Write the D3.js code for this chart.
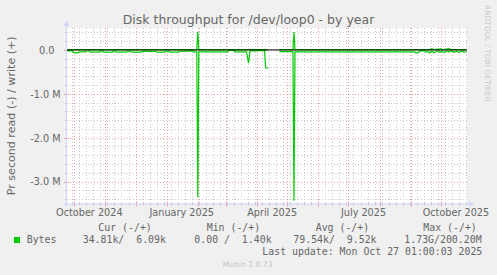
<!DOCTYPE html>
<html><head><meta charset="utf-8">
<script src="https://cdn.jsdelivr.net/npm/d3@7"></script>
<style>
html,body{margin:0;padding:0;background:#f0f0f0;}
svg text{white-space:pre;}
</style></head><body>
<svg id="c" width="497" height="275"></svg>
<script>
// ---- data (bytes per second; read plotted negative, write positive) ----
const readSeries = [
  ["2024-09-24",-20000],["2024-09-29",-20000],["2024-10-01",-65000],["2024-10-05",-65000],
  ["2024-10-06",-42000],["2024-10-12",-42000],["2024-10-13",-24000],["2024-10-16",-24000],
  ["2024-10-17",-48000],["2024-10-26",-48000],["2024-10-27",-26000],["2024-10-29",-26000],
  ["2024-10-30",-48000],["2024-11-08",-48000],["2024-11-09",-28000],["2024-11-11",-28000],
  ["2024-11-12",-48000],["2024-11-22",-48000],["2024-11-23",-28000],["2024-11-26",-28000],
  ["2024-11-27",-48000],["2024-12-07",-48000],["2024-12-08",-32000],["2024-12-21",-32000],
  ["2024-12-22",-48000],["2024-12-30",-48000],["2024-12-31",-28000],["2025-01-03",-28000],
  ["2025-01-04",-48000],["2025-01-13",-48000],["2025-01-14",-25000],["2025-01-27",-25000],
  ["2025-01-28",-45000],["2025-01-31",-45000],["2025-02-01",-3360000],["2025-02-02",-46000],
  ["2025-03-03",-46000],["2025-03-04",-12000],["2025-03-09",-12000],["2025-03-10",-46000],
  ["2025-03-21T12:00",-46000],["2025-03-23T12:00",-300000],["2025-03-25",-22000],["2025-03-31",-22000],
  ["2025-04-01",-15000],["2025-04-08T12:00",-15000],["2025-04-09T12:00",-412000],["2025-04-12",-412000],
  ["2025-04-13",null],["2025-04-23T06:00",-38000],["2025-05-06T18:00",-38000],["2025-05-07T18:00",-3440000],
  ["2025-05-08T18:00",-46000],["2025-09-05",-46000],["2025-09-06",-68000],["2025-09-08",-68000],
  ["2025-09-09",-46000],["2025-09-11",-22000],["2025-09-15",-22000],["2025-09-16",-46000],
  ["2025-09-19",-46000],["2025-09-20",-70000],["2025-09-22",-25000],["2025-09-24",-65000],
  ["2025-09-26",-40000],["2025-09-28",-20000],["2025-09-30",-55000],["2025-10-02",-30000],
  ["2025-10-04",-60000],["2025-10-07",-25000],["2025-10-09",-50000],["2025-10-11",-20000],
  ["2025-10-14",-55000],["2025-10-17",-30000],["2025-10-19",-60000],["2025-10-22",-25000],
  ["2025-10-24",-50000],["2025-10-26T12:00",-35000]
];
const writeSeries = [
  ["2024-09-24",7000],["2025-01-31",7000],["2025-02-01",410000],["2025-02-02",7000],
  ["2025-04-12",7000],["2025-04-13",null],["2025-04-23T06:00",7000],["2025-05-06T18:00",7000],
  ["2025-05-07T18:00",410000],["2025-05-08T18:00",7000],["2025-09-20",7000],["2025-09-22",28000],
  ["2025-09-24",7000],["2025-10-01",25000],["2025-10-03",7000],["2025-10-09",28000],
  ["2025-10-11",7000],["2025-10-26T12:00",6000]
];
const timeDomain = ["2024-09-23T18:00","2025-10-27T01:00"];
const valueDomain = [-3500000, 500000];
const yTickValues = [0, -1000000, -2000000, -3000000];
const xLabelMonths = ["2024-10-01","2025-01-01","2025-04-01","2025-07-01","2025-10-01"];
const xLabelTexts = ["October 2024","January 2025","April 2025","July 2025","October 2025"];
const legendHeaders = ["Cur (-/+)","Min (-/+)","Avg (-/+)","Max (-/+)"];
const legendValues = ["34.81k/  6.09k","0.00 /  1.40k","79.54k/  9.52k","1.73G/200.20M"];
const seriesName = "Bytes";
const titleText = "Disk throughput for /dev/loop0 - by year";
const yAxisTitle = "Pr second read (-) / write (+)";
const lastUpdate = "Last update: Mon Oct 27 01:00:03 2025";
const footer = "Munin 2.0.73";
const watermark = "RRDTOOL / TOBI OETIKER";

// ---- layout ----
const L = 67, R = 467, T = 28, B = 203.5;
const parse = s => new Date(s + (s.length === 10 ? "T00:00:00Z" : ":00Z"));
const svg = d3.select("#c");
const sans = "'DejaVu Sans', Verdana, sans-serif";
const mono = "'DejaVu Sans Mono', monospace";
const fontCol = "#666666";
const axisCol = "#CFD6F8";
const gridCol = "#c8c8c8";
const mgridCol = "#eaa2a2";
const green = "#00CC00";

const x = d3.scaleUtc().domain(timeDomain.map(parse)).range([L, R]);
const y = d3.scaleLinear().domain(valueDomain).range([B, T]);

svg.append("rect").attr("width",497).attr("height",275).attr("fill","#f0f0f0");
svg.append("rect").attr("x",L).attr("y",T).attr("width",R-L).attr("height",B-T).attr("fill","#ffffff");

const g = svg.append("g");
const px = v => Math.round(v) + 0.5;

// minor horizontal grid
const minorY = y.ticks(20).filter(v => Math.abs(v % 1000000) > 1);
g.selectAll(".hmin").data(minorY).join("line")
  .attr("x1",L).attr("x2",R).attr("y1",d=>px(y(d))).attr("y2",d=>px(y(d)))
  .attr("stroke",gridCol).attr("stroke-dasharray","1,2");
// minor vertical grid (weekly)
const weeks = d3.utcSunday.range(x.domain()[0], x.domain()[1]);
g.selectAll(".vmin").data(weeks).join("line")
  .attr("y1",T).attr("y2",B).attr("x1",d=>px(x(d))).attr("x2",d=>px(x(d)))
  .attr("stroke",gridCol).attr("stroke-dasharray","1,2");
// major grids
const majorY = y.ticks(4);
g.selectAll(".hmaj").data(majorY).join("line")
  .attr("x1",L).attr("x2",R).attr("y1",d=>px(y(d))).attr("y2",d=>px(y(d)))
  .attr("stroke",mgridCol).attr("stroke-dasharray","1,2");
const months = d3.utcMonth.range(x.domain()[0], x.domain()[1]);
g.selectAll(".vmaj").data(months).join("line")
  .attr("y1",T).attr("y2",B).attr("x1",d=>px(x(d))).attr("x2",d=>px(x(d)))
  .attr("stroke",mgridCol).attr("stroke-dasharray","1,2");

// ticks on axes
g.selectAll(".tyl").data(minorY).join("line")
  .attr("x1",L-2).attr("x2",L+1).attr("y1",d=>px(y(d))).attr("y2",d=>px(y(d))).attr("stroke",gridCol);
g.selectAll(".tyM").data(majorY).join("line")
  .attr("x1",L-3).attr("x2",L+2).attr("y1",d=>px(y(d))).attr("y2",d=>px(y(d))).attr("stroke",mgridCol);
g.selectAll(".txl").data(weeks).join("line")
  .attr("y1",B-1).attr("y2",B+2).attr("x1",d=>px(x(d))).attr("x2",d=>px(x(d))).attr("stroke",gridCol);
g.selectAll(".txM").data(months).join("line")
  .attr("y1",B-2).attr("y2",B+3).attr("x1",d=>px(x(d))).attr("x2",d=>px(x(d))).attr("stroke",mgridCol);

// data lines
const line = d3.line().defined(d => d[1] !== null).x(d => x(parse(d[0]))).y(d => y(d[1]));
svg.append("path").attr("d", line(writeSeries)).attr("fill","none").attr("stroke",green).attr("stroke-width",1.2);
svg.append("path").attr("d", line(readSeries)).attr("fill","none").attr("stroke",green).attr("stroke-width",1.2);
// zero rule
svg.append("line").attr("x1",L).attr("x2",R).attr("y1",y(0)).attr("y2",y(0)).attr("stroke","#000").attr("stroke-width",1);

// axes lines + arrows
svg.append("line").attr("x1",L-0.5).attr("x2",L-0.5).attr("y1",B+3).attr("y2",T-3).attr("stroke",axisCol);
svg.append("line").attr("x1",L-3).attr("x2",R+3).attr("y1",B+0.5).attr("y2",B+0.5).attr("stroke",axisCol);
svg.append("path").attr("d",`M${L-3.5},${T-2}L${L+2.5},${T-2}L${L-0.5},${T-7}Z`).attr("fill",axisCol);
svg.append("path").attr("d",`M${R+2},${B-2.5}L${R+2},${B+3.5}L${R+7},${B+0.5}Z`).attr("fill",axisCol);

// y tick labels via d3 axis
const yAxis = d3.axisLeft(y).tickValues(yTickValues).tickSize(0).tickPadding(0)
  .tickFormat(v => v === 0 ? "0.0" : (v/1e6).toFixed(1) + " M");
const ya = svg.append("g").attr("transform",`translate(${L-6.5},0)`).call(yAxis);
ya.select(".domain").remove();
ya.selectAll("text").attr("font-family",sans).attr("font-size","9.7px").attr("fill",fontCol)
  .attr("dy","0.35em").attr("dx", v => v === 0 ? -6 : 0);

// x labels (centered mid-month)
svg.selectAll(".xl").data(xLabelMonths).join("text")
  .attr("x", d => x(d3.utcDay.offset(parse(d), 15)))
  .attr("y", 216.2).attr("text-anchor","middle")
  .attr("font-family",sans).attr("font-size","9.7px").attr("fill",fontCol)
  .text((d,i) => xLabelTexts[i]);

// title
svg.append("text").attr("x",248.5).attr("y",24).attr("text-anchor","middle")
  .attr("font-family",sans).attr("font-size","12.5px").attr("fill",fontCol).text(titleText);
// y axis title
svg.append("text").attr("transform","translate(14.8,115.8) rotate(-90)").attr("text-anchor","middle")
  .attr("font-family",sans).attr("font-size","11.1px").attr("fill",fontCol).text(yAxisTitle);
// watermark
svg.append("text").attr("transform","translate(485.2,53.3) rotate(90)").attr("text-anchor","middle")
  .attr("font-family",sans).attr("font-size","7.5px").attr("fill","#cccccc").text(watermark);

// legend
const headX = [98.3, 206.7, 315.7, 423.3];
svg.selectAll(".lh").data(legendHeaders).join("text")
  .attr("x",(d,i)=>headX[i]).attr("y",231).attr("font-family",mono).attr("font-size","9.9px").attr("fill",fontCol).text(d=>d);
svg.append("rect").attr("x",14).attr("y",237).attr("width",6).attr("height",6).attr("fill",green);
svg.append("text").attr("x",26.7).attr("y",243.3).attr("font-family",mono).attr("font-size","9.9px").attr("fill",fontCol).text(seriesName);
const valX = [82.7, 194.3, 293.3, 404.3];
svg.selectAll(".lv").data(legendValues).join("text")
  .attr("x",(d,i)=>valX[i]).attr("y",243.3).attr("font-family",mono).attr("font-size","9.9px").attr("fill",fontCol).text(d=>d);
svg.append("text").attr("x",482.3).attr("y",255).attr("text-anchor","end").attr("font-family",mono).attr("font-size","9.9px").attr("fill",fontCol).text(lastUpdate);
svg.append("text").attr("x",247.7).attr("y",266.8).attr("text-anchor","middle").attr("font-family",sans).attr("font-size","7.6px").attr("fill","#c4c4c4").text(footer);
</script>
</body></html>
